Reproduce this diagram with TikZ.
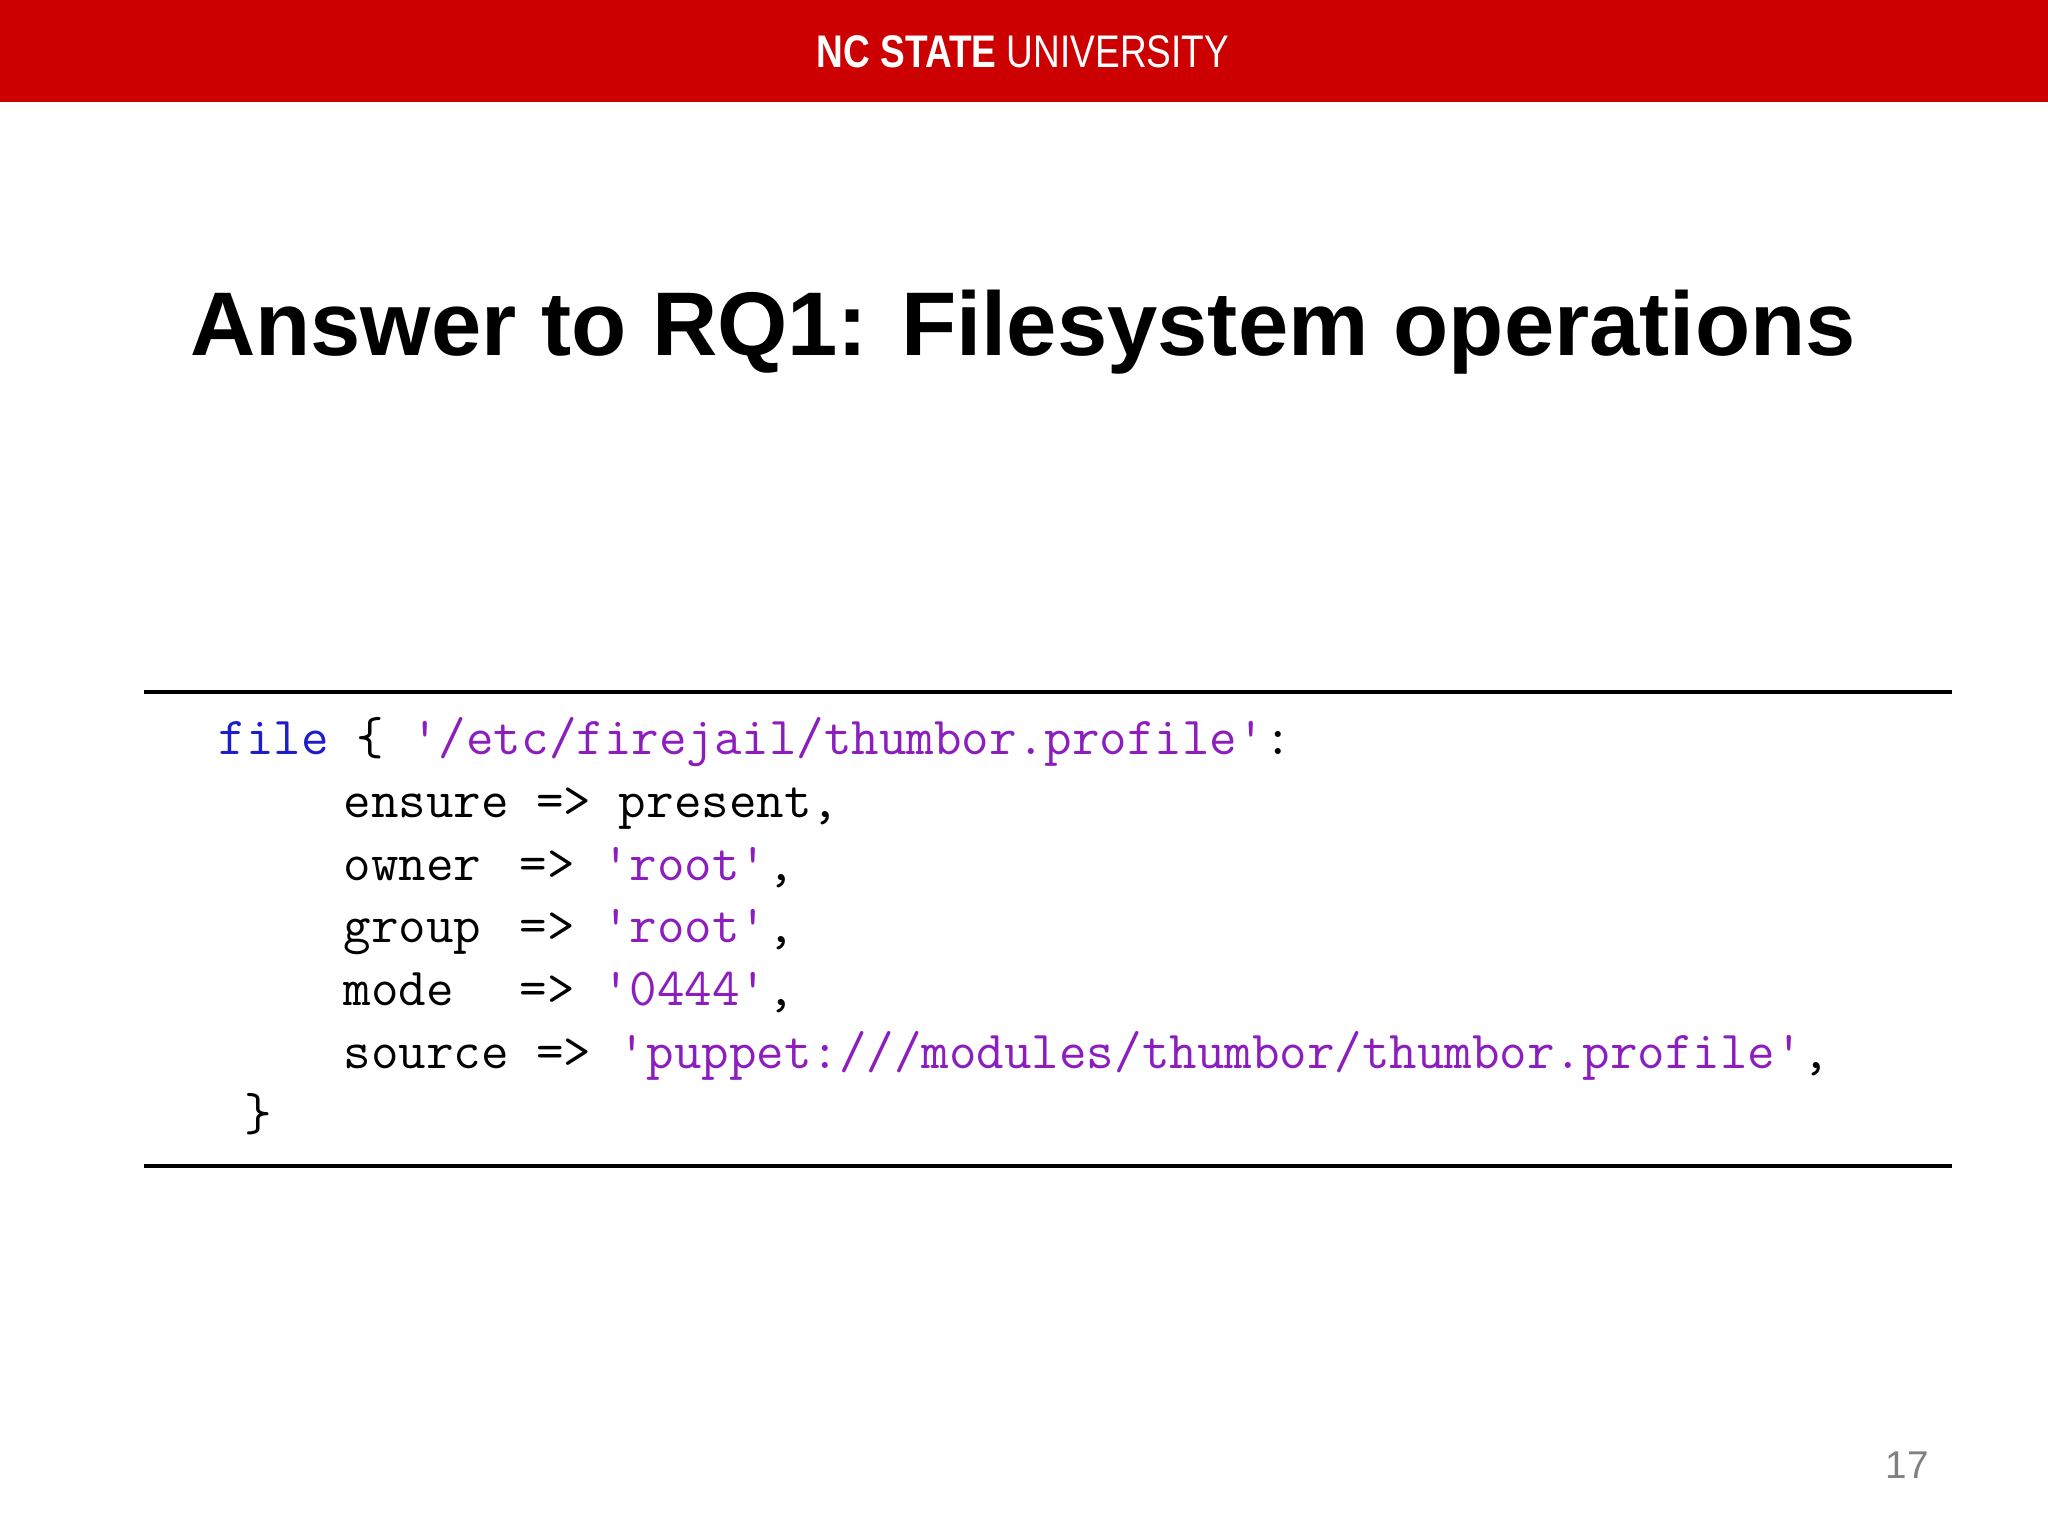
\documentclass[tikz,border=0pt]{standalone}
\usepackage{fontspec}
\setmainfont{Liberation Sans}
\definecolor{ncred}{RGB}{204,0,0}
\definecolor{kwblue}{RGB}{30,30,200}
\definecolor{strpur}{RGB}{140,30,190}
\begin{document}
\begin{tikzpicture}[x=0.01cm,y=-0.01cm,
  code/.style={anchor=base west,inner sep=0,font=\fontsize{15.2}{16}\ttfamily}]
\useasboundingbox (0,0) rectangle (2048,1536);
\fill[ncred] (0,0) rectangle (2048,102);
\node[text=white,font=\fontsize{13}{14}\selectfont] (hdr) at (1023,52)
  {\scalebox{0.81}[1]{\textbf{NC STATE} UNIVERSITY}};
\node[anchor=base,inner sep=0,font=\fontsize{25.7}{30}\bfseries] (title) at (1023,355)
  {Answer to RQ1: Filesystem operations};
\draw[line width=1pt] (144,692) coordinate (r1) -- (1952,692) coordinate (r2);
\draw[line width=1pt] (144,1166) coordinate (r3) -- (1952,1166) coordinate (r4);
\node[code] (l1) at (218,754) {\textcolor{kwblue}{file} \{ \textcolor{strpur}{'/etc/firejail/thumbor.profile'}:};
\node[code] (l2) at (343,817) {ensure => present,};
\node[code] (l3) at (343,880) {owner\hspace{0.2em} => \textcolor{strpur}{'root'},};
\node[code] (l4) at (343,942) {group\hspace{0.2em} => \textcolor{strpur}{'root'},};
\node[code] (l5) at (343,1005) {mode\hspace{0.2em}\ \ => \textcolor{strpur}{'0444'},};
\node[code] (l6) at (343,1068) {source => \textcolor{strpur}{'puppet:///modules/thumbor/thumbor.profile'},};
\node[code] (l7) at (244,1130) {\}};
\node[text=gray,font=\fontsize{11}{13}\selectfont] (pg) at (1907,1465) {17};
\end{tikzpicture}
\end{document}
